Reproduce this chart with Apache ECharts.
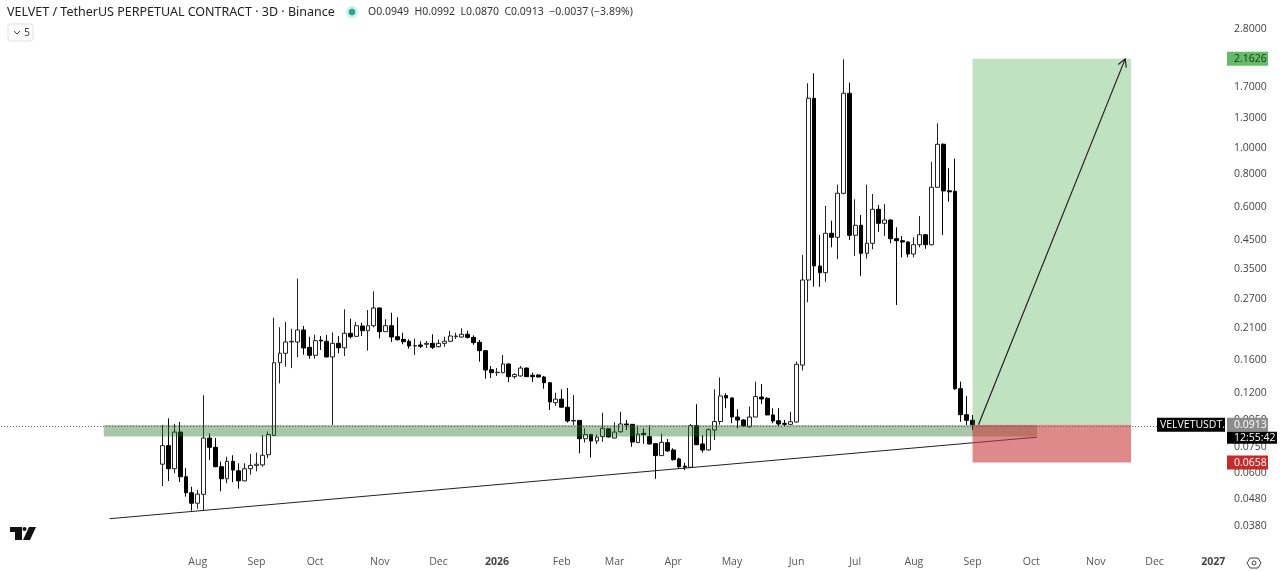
<!DOCTYPE html>
<html><head><meta charset="utf-8">
<style>html,body{margin:0;padding:0;background:#fff}#c{width:1280px;height:571px}</style>
<script src="https://cdn.jsdelivr.net/npm/echarts@6/dist/echarts.min.js"></script>
</head><body><div id="c"></div>
<script>
// Month / year tick labels on the 3-day candle index
const tickIndex  = [33,43,53,64,74,84,95,104,114,124,135,145,155,165,175,186,196,206];
const tickLabels = ['Aug','Sep','Oct','Nov','Dec','2026','Feb','Mar','Apr','May','Jun','Jul','Aug','Sep','Oct','Nov','Dec','2027'];
const candleSlots = 208;
const firstCandle = 27;
const priceTicks = [2.8,1.7,1.3,1.0,0.8,0.6,0.45,0.35,0.27,0.21,0.16,0.12,0.095,0.075,0.06,0.048,0.038];

const opens = [.0649,.0762,.0624,.0857,.0582,.0507,.0463,.0500,.0814,.0751,.0635,.0572,.0665,.0613,.0562,.0624,.0642,.0645,.0704,.0832,
.1561,.1694,.1868,.1868,.2072,.1783,.1664,.1897,.1879,.1641,.1846,.1776,.2014,.1961,.2145,.2059,.2150,.2506,.2042,.2150,
.1955,.1911,.1879,.1804,.1820,.1831,.1846,.1793,.1846,.1879,.1955,.1950,.1997,.1944,.1863,.1733,.1470,.1432,.1432,.1544,
.1384,.1392,.1491,.1400,.1404,.1380,.1313,.1105,.1139,.1062,.0943,.0948,.0809,.0839,.0793,.0824,.0881,.0814,.0859,.0919,
.0916,.0782,.0847,.0824,.0775,.0699,.0782,.0734,.0679,.0638,.0632,.0906,.0773,.0734,.0872,.0939,.1176,.1151,.0976,.0951,
.0897,.0976,.1160,.1147,.0994,.0945,.0923,.0916,.0935,.1530,.3193,1.5375,.3604,.3402,.4782,.4620,.6759,1.6055,.4701,.5125,
.4022,.4386,.5885,.5214,.5365,.4564,.4486,.4436,.3998,.4332,.4723,.4332,.7119,1.0328,.6907,.6878,.1247,.0996,.0949];
const closes = [.0762,.0624,.0857,.0582,.0507,.0463,.0501,.0814,.0751,.0635,.0572,.0665,.0617,.0562,.0624,.0642,.0649,.0701,.0839,.1561,
.1694,.1868,.1879,.2072,.1773,.1664,.1889,.1884,.1641,.1846,.1776,.2014,.1955,.2150,.2059,.2150,.2506,.2042,.2150,.1950,
.1905,.1872,.1804,.1810,.1799,.1846,.1783,.1846,.1879,.1967,.1967,.1997,.1944,.1857,.1733,.1466,.1432,.1437,.1544,.1384,
.1409,.1491,.1384,.1384,.1380,.1313,.1112,.1139,.1062,.0943,.0948,.0809,.0839,.0793,.0820,.0885,.0821,.0857,.0919,.0913,
.0786,.0842,.0839,.0773,.0699,.0784,.0728,.0675,.0635,.0632,.0906,.0768,.0734,.0875,.0939,.1171,.1151,.0976,.0951,.0903,
.0976,.1165,.1141,.0994,.0943,.0919,.0916,.0937,.1540,.3193,1.5375,.3604,.3402,.4782,.4620,.6759,1.6055,.4701,.5125,.4022,
.4386,.5885,.5214,.5365,.4564,.4486,.4436,.3998,.4332,.4723,.4332,.7119,1.0328,.6895,.6843,.1247,.0996,.0949,.0913];
const lows = [.0537,.0561,.0600,.0556,.0490,.0434,.0441,.0437,.0673,.0632,.0513,.0550,.0556,.0525,.0560,.0592,.0610,.0635,.0684,.0832,
.1306,.1508,.1490,.1636,.1673,.1616,.1616,.1743,.1636,.0911,.1694,.1655,.1925,.1955,.1967,.1733,.2121,.1925,.2042,.1868,
.1889,.1831,.1763,.1669,.1773,.1773,.1758,.1783,.1793,.1868,.1918,.1939,.1925,.1824,.1575,.1360,.1368,.1392,.1425,.1318,
.1360,.1384,.1380,.1322,.1375,.1247,.1037,.1074,.1060,.0930,.0911,.0713,.0782,.0688,.0773,.0788,.0818,.0810,.0852,.0872,
.0754,.0780,.0775,.0770,.0572,.0697,.0723,.0669,.0624,.0617,.0630,.0766,.0717,.0730,.0800,.0913,.1053,.0925,.0885,.0897,
.0892,.0976,.1092,.0990,.0925,.0897,.0903,.0911,.0930,.1459,.2633,.3013,.3013,.3146,.4237,.3822,.6700,.4513,.3929,.3306,
.3839,.4164,.4849,.4672,.4386,.2572,.3886,.3886,.3886,.4237,.4184,.4307,.7119,.4713,.6286,.1233,.0937,.0911,.0870];
const highs = [.0912,.0965,.0919,.0935,.0628,.0534,.0519,.1178,.0847,.0814,.0663,.0693,.0701,.0654,.0654,.0709,.0717,.0835,.0862,.2304,
.2121,.2220,.2095,.3229,.2145,.1955,.1990,.1967,.1984,.2029,.1967,.2478,.2284,.2220,.2207,.2463,.2896,.2520,.2273,.2406,
.2312,.2024,.1911,.1925,.1879,.1884,.1997,.1911,.1955,.2059,.2024,.2103,.2059,.1979,.1900,.1743,.1517,.1491,.1669,.1553,
.1426,.1517,.1497,.1432,.1414,.1392,.1318,.1205,.1241,.1254,.1181,.0950,.0885,.0840,.0839,.1013,.0885,.0932,.1022,.0951,
.0918,.0906,.0885,.0911,.0776,.0847,.0807,.0745,.0687,.0657,.0919,.1090,.0835,.0885,.1241,.1375,.1198,.1155,.1044,.0957,
.1069,.1325,.1298,.1160,.1053,.1053,.0951,.1022,.1575,.3964,1.750,1.909,.4713,.6056,.5333,.7280,2.155,1.760,.6418,.5603,
.7280,.6719,.6109,.6162,.5397,.5037,.4672,.4463,.4620,.5554,.4754,.8883,1.2385,1.0417,.8390,.9117,.1325,.1171,.0992];

// Drawing tools on the chart (candle index, price)
const zoneIdx = [17,176],  zonePrice = [.0911,.0824];
const trendIdx = [18,176], trendPrice = [.0405,.0820];
const boxIdx = [165,192];
const entryPrice = .0913, targetPrice = 2.1626, stopPrice = .0658;
const arrowIdx = [166,191], arrowPrice = [.0913,2.1626];

const FONT = '"Noto Sans", sans-serif';
const AXISFONT = '"Open Sans", sans-serif';

const categories = Array.from({length:candleSlots},(_,i)=>{const p=tickIndex.indexOf(i);return p<0?'':tickLabels[p];});
const candleData = categories.map((_,i)=>{
  const j=i-firstCandle;
  return j>=0&&j<opens.length?[opens[j],closes[j],lows[j],highs[j]]:['-','-','-','-'];
});

function rectItem(idx,prices,fill){
  return (params,api)=>{
    const a=api.coord([idx[0],prices[0]]),b=api.coord([idx[1],prices[1]]);
    return {type:'rect',shape:{x:a[0],y:Math.min(a[1],b[1]),width:b[0]-a[0],height:Math.abs(b[1]-a[1])},style:{fill:fill}};
  };
}
function custom(z,renderItem){
  return {type:'custom',z:z,silent:true,data:[[0,1]],renderItem:renderItem,clip:false,animation:false};
}
function tag(price,x,w,h,bg,fg,text,tx,dy){
  return (params,api)=>{
    const y=api.coord([0,price])[1]+(dy||0);
    return {type:'group',children:[
      {type:'rect',shape:{x:x,y:y-h/2,width:w,height:h},style:{fill:bg}},
      {type:'text',x:tx,y:y,style:{text:text,fill:fg,font:'10.5px '+AXISFONT,textAlign:'left',textVerticalAlign:'middle'}}
    ]};
  };
}

const option={
  backgroundColor:'#ffffff',
  animation:false,
  grid:{left:1.1,top:0,width:5.87*candleSlots,height:545,containLabel:false},
  xAxis:{type:'category',data:categories,boundaryGap:true,
    axisLine:{show:false},axisTick:{show:false},splitLine:{show:false},
    axisLabel:{interval:0,margin:12,color:'#555',fontFamily:AXISFONT,fontSize:10.5,showMinLabel:true,showMaxLabel:true,
      formatter:v=>/^20/.test(v)?'{b|'+v+'}':v,
      rich:{b:{fontWeight:'bold',color:'#444',fontFamily:AXISFONT,fontSize:10.5}}}},
  yAxis:{type:'log',logBase:10,min:0.03226,max:3.598,position:'right',
    axisLine:{show:false},axisTick:{show:false},splitLine:{show:false},minorTick:{show:false},minorSplitLine:{show:false},
    axisLabel:{show:true,customValues:priceTicks,margin:12,color:'#444',fontFamily:AXISFONT,fontSize:10.5,align:'left',
      showMinLabel:true,showMaxLabel:true,formatter:v=>Number(v).toFixed(4)}},
  graphic:{elements:[
    {type:'text',x:7,y:12,style:{text:'VELVET / TetherUS PERPETUAL CONTRACT · 3D · Binance',fill:'#222',font:'12.5px '+FONT,textVerticalAlign:'middle'}},
    {type:'circle',shape:{cx:352,cy:12,r:6},style:{fill:'#cdeee6'}},
    {type:'circle',shape:{cx:352,cy:12,r:3.2},style:{fill:'#26a98f'}},
    {type:'text',x:368,y:12,style:{text:'O0.0949  H0.0992  L0.0870  C0.0913  −0.0037 (−3.89%)',fill:'#333',font:'10.5px '+FONT,textVerticalAlign:'middle'}},
    {type:'rect',shape:{x:8,y:24,width:25,height:17,r:3},style:{fill:'#fff',stroke:'#e0e0e0',lineWidth:1}},
    {type:'polyline',shape:{points:[[14,31],[17,34],[20,31]]},style:{stroke:'#444',lineWidth:1,fill:null}},
    {type:'text',x:24,y:33,style:{text:'5',fill:'#444',font:'10.5px '+FONT,textVerticalAlign:'middle'}},
    {type:'polygon',shape:{points:[[10,527],[22,527],[22,540],[15,540],[15,532],[10,532]]},style:{fill:'#111'}},
    {type:'circle',shape:{cx:24.5,cy:529,r:2},style:{fill:'#111'}},
    {type:'polygon',shape:{points:[[29,527],[36,527],[30,540],[23,540]]},style:{fill:'#111'}},
    {type:'polygon',shape:{points:[[1250,558],[1258,558],[1261,563],[1258,568],[1250,568],[1247,563]]},style:{fill:'none',stroke:'#444',lineWidth:1}},
    {type:'circle',shape:{cx:1254,cy:563,r:2},style:{fill:'none',stroke:'#444',lineWidth:1}}
  ]},
  series:[
    {type:'candlestick',z:2,data:candleData,barWidth:4.3,clip:false,
     itemStyle:{color:'#ffffff',color0:'#000000',borderColor:'#222222',borderColor0:'#000000',borderWidth:1},
     markLine:{silent:true,symbol:'none',z:7,label:{show:false},animation:false,
       lineStyle:{color:'#555',type:[1,2],width:1},data:[{yAxis:entryPrice}]}},
    custom(3,(p,api)=>{
      const a=api.coord([trendIdx[0],trendPrice[0]]),b=api.coord([trendIdx[1],trendPrice[1]]);
      return {type:'line',shape:{x1:a[0],y1:a[1],x2:b[0],y2:b[1]},style:{stroke:'#222',lineWidth:1}};
    }),
    custom(4,rectItem(zoneIdx,zonePrice,'rgba(40,112,40,0.4)')),
    custom(5,rectItem(boxIdx,[entryPrice,targetPrice],'rgba(50,160,50,0.3)')),
    custom(5,rectItem(boxIdx,[stopPrice,entryPrice],'rgba(200,60,60,0.6)')),
    custom(6,(p,api)=>{
      const a=api.coord([arrowIdx[0],arrowPrice[0]]),b=api.coord([arrowIdx[1],arrowPrice[1]]);
      const ang=Math.atan2(b[1]-a[1],b[0]-a[0]),L=9,s=0.5;
      const h1=[b[0]-L*Math.cos(ang-s),b[1]-L*Math.sin(ang-s)],h2=[b[0]-L*Math.cos(ang+s),b[1]-L*Math.sin(ang+s)];
      return {type:'group',children:[
        {type:'line',shape:{x1:a[0],y1:a[1],x2:b[0],y2:b[1]},style:{stroke:'#222',lineWidth:1.2}},
        {type:'polyline',shape:{points:[h1,b,h2]},style:{stroke:'#222',lineWidth:1.2,fill:null}}
      ]};
    }),
    custom(8,tag(targetPrice,1227,41,14,'#66bb6a','#16401a','2.1626',1234)),
    custom(8,tag(stopPrice,1227,41,14,'#c42b2b','#ffffff','0.0658',1234)),
    custom(8,tag(entryPrice,1157,68,14,'#000','#fff','VELVETUSDT.P',1160)),
    custom(8,tag(entryPrice,1227,41,14,'#8c8c8c','#fff','0.0913',1234)),
    custom(9,tag(entryPrice,1227,50,12,'#000','#fff','12:55:42',1234,13))
  ]
};
echarts.init(document.getElementById('c'),null,{renderer:'canvas'}).setOption(option);
</script></body></html>
